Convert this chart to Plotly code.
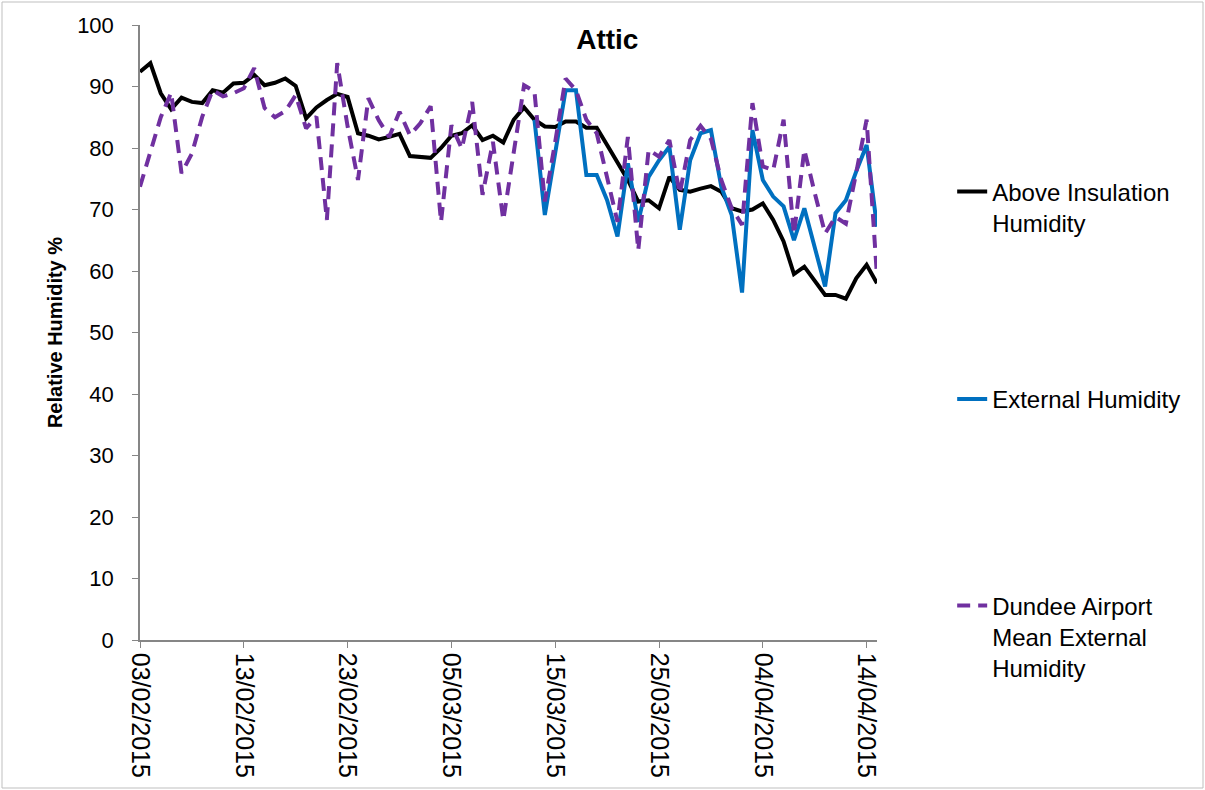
import pandas as pd
import plotly.graph_objects as go

# Daily readings, 03/02/2015 to 15/04/2015
start_date = "2015-02-03"
n_days = 72
dates = pd.date_range(start_date, periods=n_days, freq="D")

above_insulation = [
    92.4, 93.8, 88.9, 86.3, 88.2, 87.5, 87.3, 89.4, 89.0, 90.5,
    90.6, 91.9, 90.2, 90.6, 91.3, 90.1, 84.8, 86.6, 87.8, 88.8,
    88.3, 82.4, 82.0, 81.4, 81.8, 82.3, 78.7, 78.6, 78.4, 80.0,
    82.0, 82.4, 83.7, 81.3, 82.0, 80.9, 84.6, 86.6, 84.6, 83.5,
    83.4, 84.3, 84.3, 83.3, 83.3, 80.5, 77.8, 74.8, 71.3, 71.5,
    70.2, 75.3, 73.2, 72.9, 73.4, 73.8, 72.9, 70.2, 69.7, 70.0,
    71.0, 68.3, 64.8, 59.5, 60.7, 58.3, 56.1, 56.1, 55.5, 58.8,
    61.0, 58.0,
]

# External sensor only logging from 13/03/2015
external_offset = 38
external = [
    84.6, 69.1, 79.2, 89.4, 89.4, 75.6, 75.6, 71.5, 65.6, 77.5,
    68.0, 75.3, 78.0, 80.2, 66.7, 78.0, 82.4, 82.9, 73.7, 69.1,
    56.5, 82.9, 74.8, 72.1, 70.5, 65.0, 70.2, 64.1, 57.5, 69.4,
    71.5, 76.2, 80.5, 67.2,
]

dundee_airport = [
    73.7, 79.5, 85.0, 89.0, 75.9, 79.1, 85.1, 89.4, 88.4, 88.9,
    89.7, 93.0, 86.5, 85.0, 86.0, 88.6, 83.2, 85.1, 68.3, 93.8,
    83.5, 74.8, 88.1, 84.5, 81.8, 85.9, 82.1, 84.0, 86.8, 68.0,
    83.7, 79.9, 87.5, 72.4, 81.0, 68.3, 78.8, 90.2, 89.2, 71.3,
    81.0, 91.3, 89.4, 84.6, 82.4, 75.5, 68.0, 81.8, 63.4, 79.7,
    78.6, 81.3, 72.6, 81.3, 83.6, 81.5, 74.8, 70.2, 67.5, 87.3,
    77.0, 76.4, 84.6, 66.0, 79.7, 72.7, 66.1, 68.8, 67.7, 76.0,
    84.6, 59.1,
]

series_names = [
    "Above Insulation<br>Humidity",
    "External Humidity",
    "Dundee Airport<br>Mean External<br>Humidity",
]
y_ticks = [0, 10, 20, 30, 40, 50, 60, 70, 80, 90, 100]

FONT = "Liberation Sans"
AXIS_GREY = "#868686"

fig = go.Figure()
fig.add_trace(go.Scatter(
    x=dates, y=above_insulation, mode="lines", name=series_names[0],
    line=dict(color="#000000", width=4), legend="legend", showlegend=True,
))
fig.add_trace(go.Scatter(
    x=dates[external_offset:], y=external, mode="lines", name=series_names[1],
    line=dict(color="#0070C0", width=4), legend="legend2", showlegend=True,
))
fig.add_trace(go.Scatter(
    x=dates, y=dundee_airport, mode="lines", name=series_names[2],
    line=dict(color="#7030A0", width=4, dash="13px,8px"), legend="legend3",
    showlegend=True,
))

legend_common = dict(
    xanchor="left", yanchor="top", valign="top",
    font=dict(family=FONT, size=24, color="#000000"),
    bgcolor="rgba(0,0,0,0)", itemwidth=30,
)

fig.update_layout(
    width=1205, height=790,
    showlegend=True,
    margin=dict(l=140, r=328, t=25, b=150),
    paper_bgcolor="#ffffff", plot_bgcolor="#ffffff",
    title=dict(
        text="<b>Attic</b>", x=0.504, xref="container", xanchor="center",
        y=0.963, yref="container",
        font=dict(family=FONT, size=28, color="#000000"),
    ),
    xaxis=dict(
        type="date",
        range=[dates[0], dates[-1]],
        tick0=dates[0], dtick=10 * 86400000,
        tickformat="%d/%m/%Y", tickangle=90,
        ticks="outside", ticklen=6, tickcolor=AXIS_GREY,
        showline=True, linecolor=AXIS_GREY, linewidth=1.5,
        showgrid=False, zeroline=False,
        tickfont=dict(family=FONT, size=25, color="#000000"),
    ),
    yaxis=dict(
        range=[0, 100], tickvals=y_ticks,
        ticks="outside", ticklen=6, tickcolor=AXIS_GREY,
        ticklabelstandoff=14,
        showline=True, linecolor=AXIS_GREY, linewidth=1.5,
        showgrid=False, zeroline=False,
        tickfont=dict(family=FONT, size=22, color="#000000"),
        title=dict(text="<b>Relative Humidity %</b>", standoff=9,
                   font=dict(family=FONT, size=20, color="#000000")),
    ),
    legend=dict(x=1.102, y=0.765, **legend_common),
    legend2=dict(x=1.102, y=0.428, **legend_common),
    legend3=dict(x=1.102, y=0.092, **legend_common),
    shapes=[dict(
        type="rect", xref="paper", yref="paper",
        x0=-138 / 737, x1=1 + 326 / 737, y0=-148 / 615, y1=1 + 23 / 615,
        line=dict(color="#bfbfbf", width=1), fillcolor="rgba(0,0,0,0)",
    )],
)

fig.write_html("out.html")
